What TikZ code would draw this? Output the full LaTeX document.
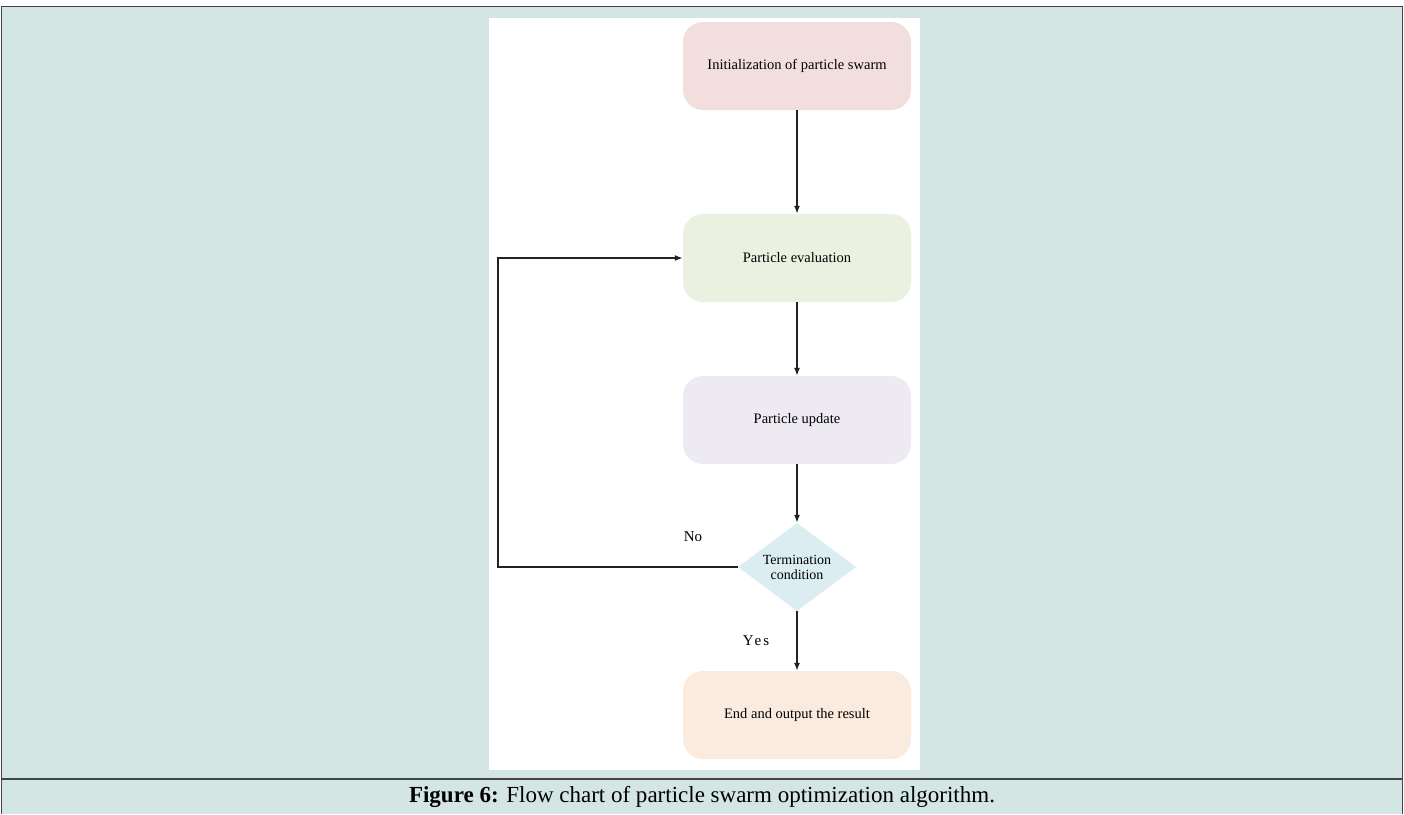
\documentclass[tikz,border=0pt]{standalone}
\usepackage{fontspec}
\setmainfont{Liberation Serif}
\usetikzlibrary{shapes.geometric,arrows.meta}
\definecolor{bgteal}{HTML}{D3E6E4}
\definecolor{framegray}{HTML}{444444}
\definecolor{cinit}{HTML}{F2DFDD}
\definecolor{ceval}{HTML}{EBF1E1}
\definecolor{cupd}{HTML}{EDEAF2}
\definecolor{ccond}{HTML}{DCEDF1}
\definecolor{cend}{HTML}{FBEBDF}
\definecolor{linec}{HTML}{222222}
\tikzset{
  procbox/.style={rounded corners=20pt, minimum width=228pt, minimum height=88pt, inner sep=0pt, font=\fontsize{14.5}{17}\selectfont},
  decbox/.style={diamond, minimum width=118pt, minimum height=88pt, inner sep=0pt, fill=ccond},
  flow/.style={draw=linec, line width=1.4pt, -{Latex[length=8pt,width=6pt]}},
  lbl/.style={font=\fontsize{15}{17}\selectfont, inner sep=0pt},
}
\begin{document}
\begin{tikzpicture}[x=1pt,y=-1pt]
\useasboundingbox (0,0) rectangle (1404,814);
\fill[white] (0,0) rectangle (1404,814);
\fill[bgteal] (1,6) rectangle (1402,814);
\draw[framegray, line width=1pt] (1,814) -- (1,6) -- (1402,6) -- (1402,814);
\draw[framegray, line width=1.2pt] (1,779) -- (1402,779);
\fill[white] (489,18) rectangle (920,770);

\node[procbox, fill=cinit] (init) at (797,66) {Initialization of particle swarm};
\node[procbox, fill=ceval] (eval) at (797,258) {Particle evaluation};
\node[procbox, fill=cupd] (upd) at (797,420) {Particle update};
\node[decbox] (cond) at (797,567) {};
\node[lbl, align=center, font=\fontsize{14}{15}\selectfont] (condtxt) at (cond.center) {Termination\\condition};
\node[procbox, fill=cend] (end) at (797,715) {End and output the result};

\coordinate (loopc) at (498,567);

\draw[flow] (init.south) -- (eval.north);
\draw[flow] (eval.south) -- (upd.north);
\draw[flow] (upd.south) -- (cond.north);
\draw[flow] (cond.south) -- (end.north);
\draw[flow] (cond.west) -- (loopc) |- (eval.west);

\node[lbl] (no) at (693,537) {No};
\node[lbl] (yes) at (756,641) {Y\kern1pt e\kern2pt s};

\node[font=\fontsize{23}{26}\selectfont, inner sep=0pt] (cap) at (702,797) {\textbf{Figure 6:} Flow chart of particle swarm optimization algorithm.};
\end{tikzpicture}
\end{document}
